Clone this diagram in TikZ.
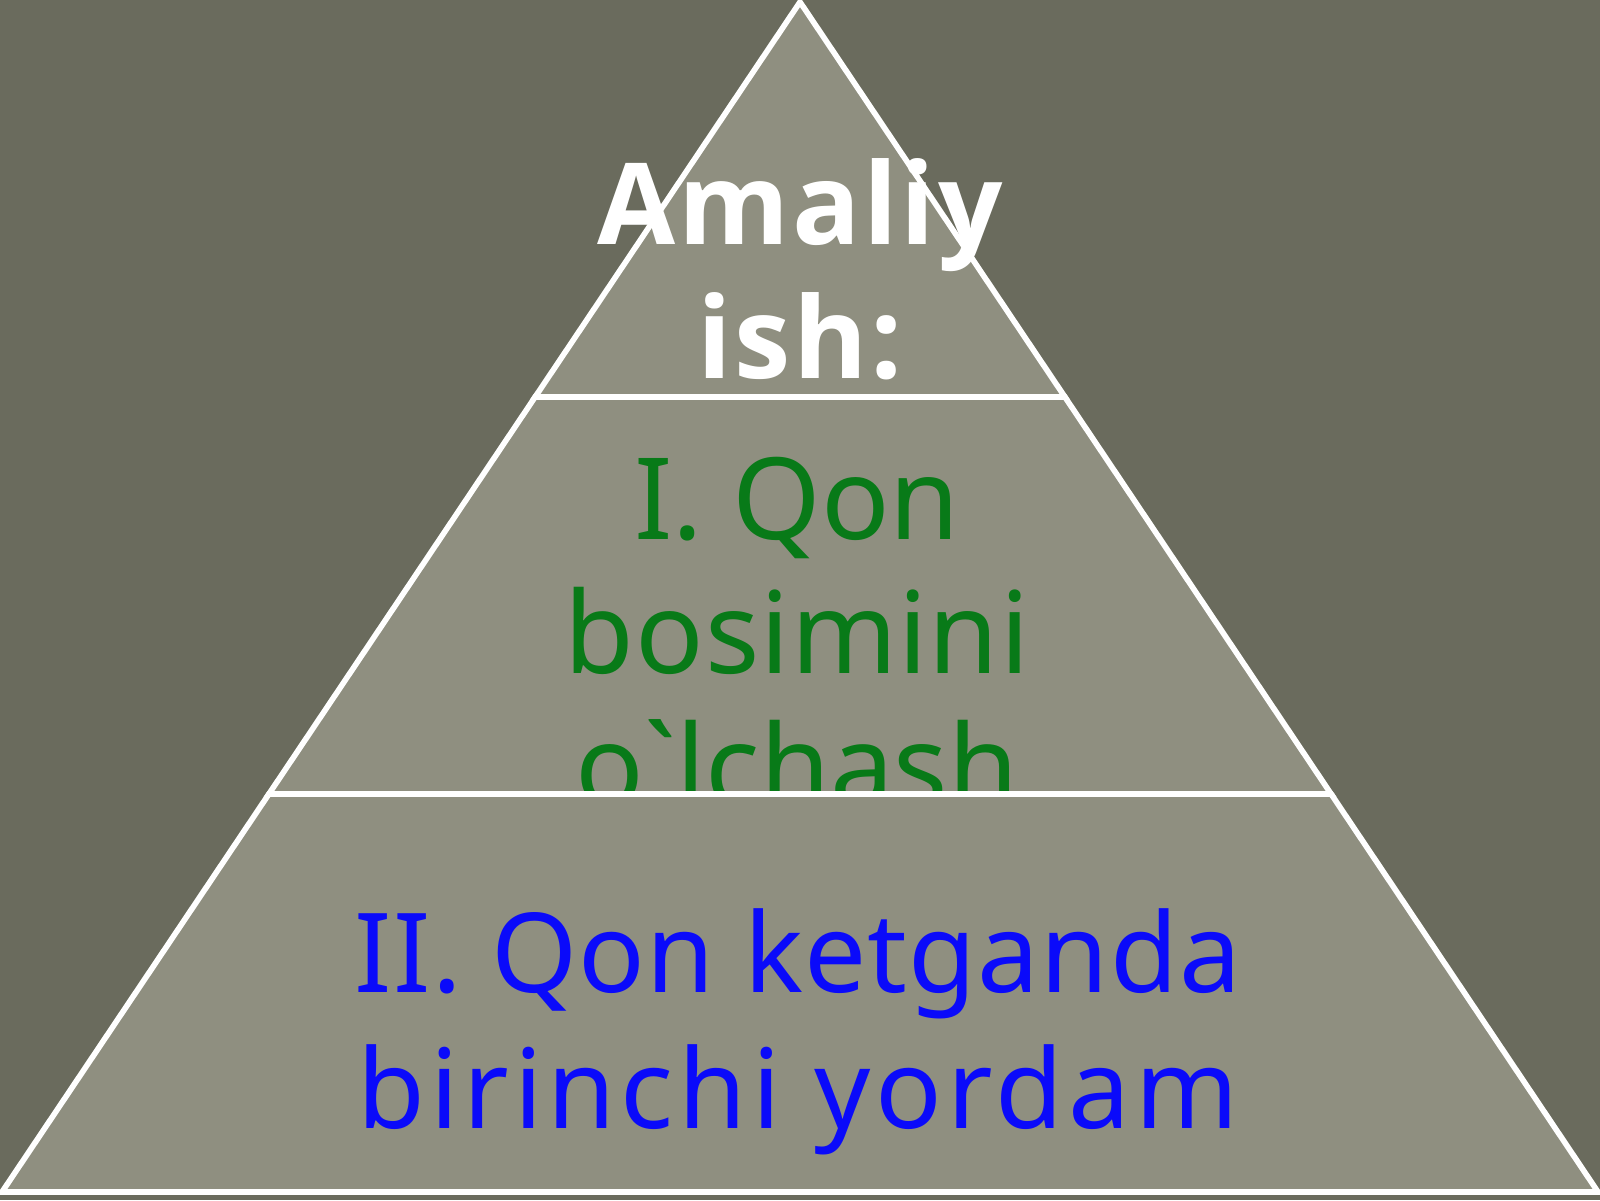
\documentclass[tikz,border=0pt]{standalone}
\usepackage{fontspec}
\setmainfont{Noto Sans}[Ligatures=TeXOff]
\newfontfamily\titlefont{Open Sans}[LetterSpace=2.5]
\definecolor{bgc}{RGB}{106,107,93}
\definecolor{fillc}{RGB}{143,143,128}
\definecolor{greentxt}{RGB}{8,122,24}
\definecolor{bluetxt}{RGB}{10,10,250}
\tikzset{
  seg/.style={fill=fillc, draw=white, line width=1.6pt, line join=miter},
  titletxt/.style={anchor=base, inner sep=0pt, text=white, font=\titlefont\fontsize{32.2}{38}\selectfont\bfseries},
  greenline/.style={anchor=base, inner sep=0pt, text=greentxt, font=\fontsize{32.3}{38}\selectfont},
  blueline/.style={anchor=base, inner sep=0pt, text=bluetxt, font=\fontsize{31.4}{38}\selectfont}
}
\begin{document}
\begin{tikzpicture}
\fill[bgc] (0,0) rectangle (16,12);
\useasboundingbox (0,0) rectangle (16,12);
% apex and corners
\coordinate (apex) at (8,11.98);
\coordinate (bl) at (0.02,0.08);
\coordinate (br) at (15.98,0.08);
\coordinate (l1) at (5.351,8.03);
\coordinate (r1) at (10.649,8.03);
\coordinate (l2) at (2.689,4.06);
\coordinate (r2) at (13.311,4.06);
% top segment
\draw[seg] (apex) -- (r1) -- (l1) -- cycle;
\node[titletxt] (t1) at (8,9.55) {Amaliy};
\node[titletxt] (t2) at (8,8.22) {ish:};
% middle segment
\draw[seg] (l1) -- (r1) -- (r2) -- (l2) -- cycle;
\node[greenline] (g1) at (7.97,6.61) {I. Qon};
\node[greenline] (g2) at (7.97,5.27) {\addfontfeatures{LetterSpace=1}bosimini};
\node[greenline] (g3) at (7.97,3.94) {o`lchash};
% bottom segment
\draw[seg] (l2) -- (r2) -- (br) -- (bl) -- cycle;
\node[blueline] (b1) at (7.98,2.08) {\addfontfeatures{LetterSpace=1}II. Qon ketganda};
\node[blueline] (b2) at (7.98,0.72) {\addfontfeatures{LetterSpace=4.5}birinchi yordam};
\end{tikzpicture}
\end{document}
